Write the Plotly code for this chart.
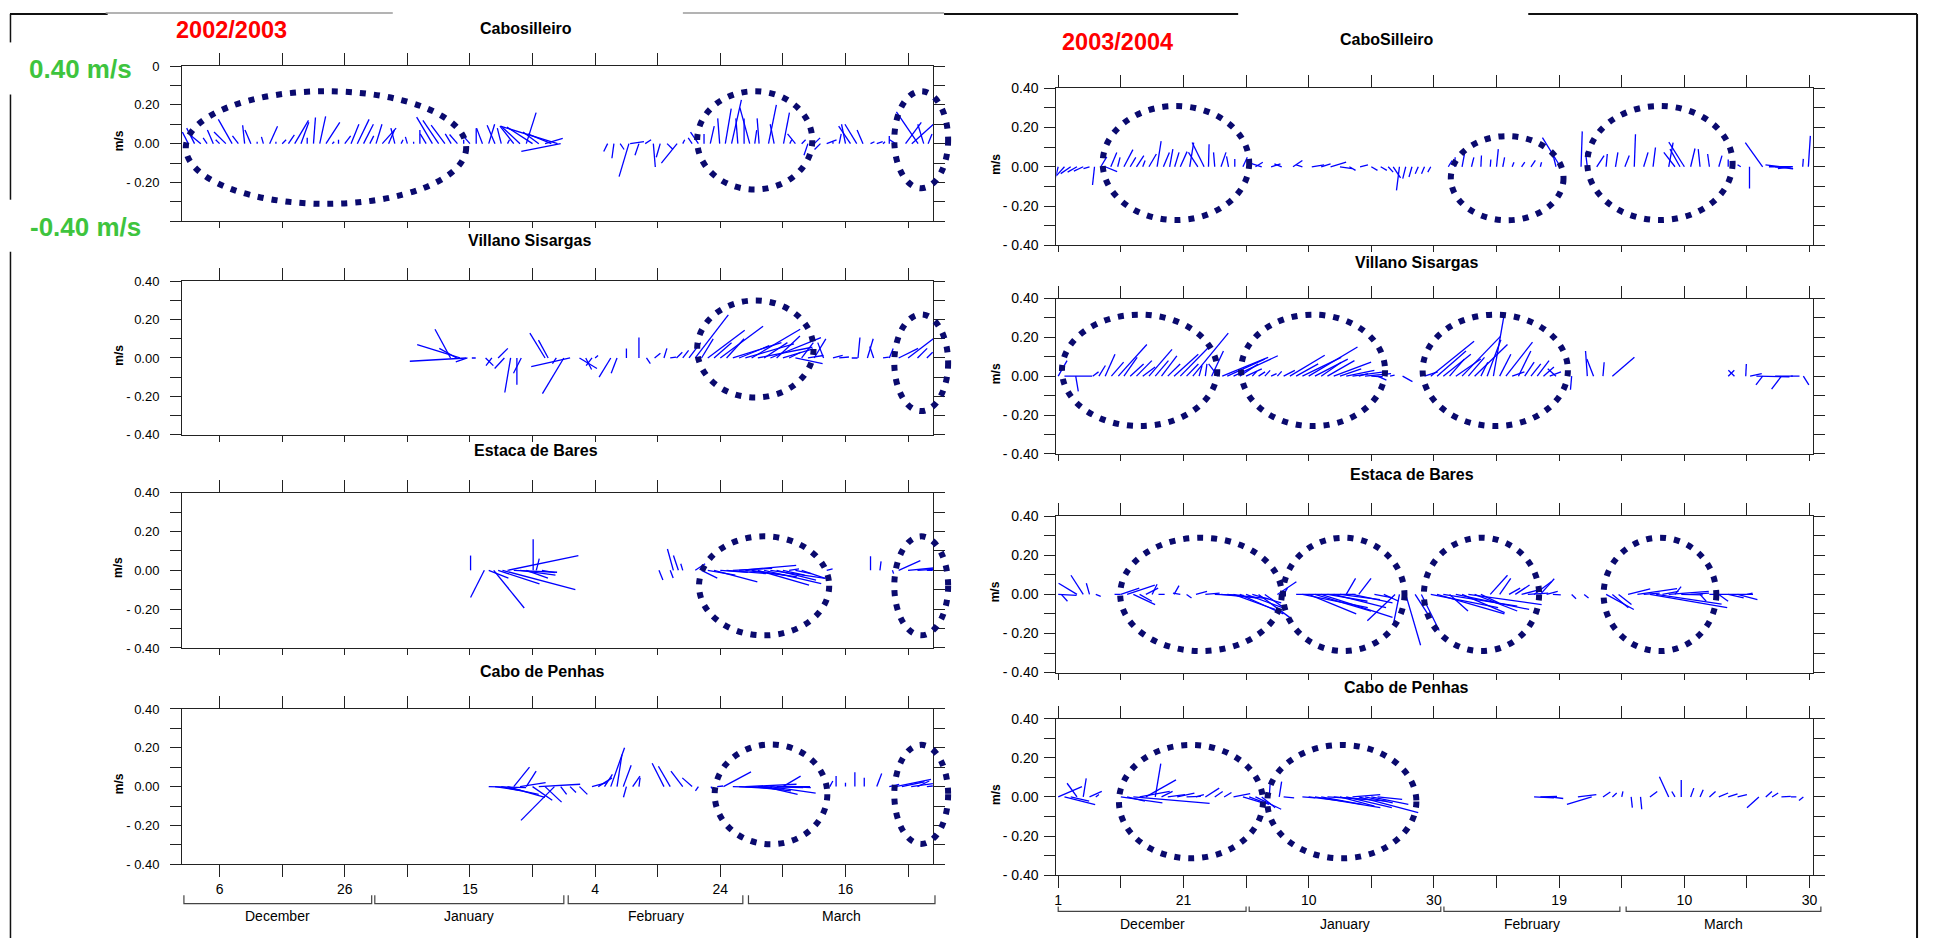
import plotly.graph_objects as go

W, H = 1935, 946
FONT = "Liberation Sans, Arial, Helvetica, sans-serif"

# ---------------------------------------------------------------- data
# sticks: time in days (left: from 30 Nov 2002, right: from 1 Dec 2003), u/v in m/s
L1_t = [1, 2, 3, 4, 5, 6, 7, 8, 9, 10,
        11, 12, 13, 14, 15, 16, 17, 18, 19, 20,
        21, 22, 23, 24, 25, 26, 27, 28, 29, 30,
        31, 32, 33, 34, 35, 36, 37, 38, 39, 40,
        41, 42, 43, 44, 45, 46, 47, 48, 49, 50,
        51, 52, 53, 54, 55, 56, 57, 58, 59, 60, 60.5,
        68, 69, 70, 71.4, 71.6, 73, 74, 75.3, 76.4, 77.5, 79.1,
        80, 81.5, 82.5, 83.4, 84.4, 85.9, 86.8, 87.8, 88.8, 89.8,
        90.7, 91.5, 92.2, 93.7, 94.6, 96.1, 97.1, 98, 99, 100,
        101, 102, 103, 104, 105, 106, 106.8, 107.8, 108.8, 110,
        111, 112, 113, 114, 115.6, 116.6, 117.6, 118.5, 119.2]
L1_u = [-0.03, -0.04, -0.06, -0.02, -0.03, -0.02, -0.06, -0.07, -0.03, -0.01,
        -0.03, 0.00, -0.01, 0.04, 0.00, 0.02, 0.03, 0.07, 0.04, 0.00,
        0.01, 0.03, 0.07, 0.01, 0.00, 0.03, 0.04, 0.06, 0.05, 0.02,
        0.03, 0.07, 0.03, -0.02, 0.01, -0.01, 0.00, 0.00, -0.03, -0.08,
        -0.08, -0.07, -0.03, -0.04, 0.00, -0.03, 0.00, -0.03, 0.03, -0.04,
        -0.02, 0.01, -0.07, -0.09, 0.05, -0.13, -0.08, 0.09, -0.12, -0.29, -0.20,
        -0.02, -0.01, 0.02, -0.05, 0.07, -0.02, 0.03, 0.01, -0.02, 0.03, -0.08,
        0.01, -0.02, -0.04, 0.00, 0.02, -0.01, 0.03, 0.05, -0.01, 0.00,
        -0.05, 0.01, -0.01, 0.04, -0.02, 0.03, 0.01, -0.04, 0.02, -0.02,
        0.03, -0.03, 0.05, 0.00, 0.01, -0.02, -0.06, -0.06, -0.03, 0.02,
        0.03, 0.01, 0.00, -0.03, 0.08, 0.11, -0.11, -0.03, 0.02]
L1_v = [0.06, 0.08, 0.05, 0.03, 0.07, 0.02, 0.06, 0.125, 0.04, 0.095,
        0.07, 0.01, 0.035, 0.09, 0.01, 0.02, 0.045, 0.12, 0.11, 0.03,
        0.135, 0.14, 0.11, 0.01, 0.02, 0.04, 0.10, 0.125, 0.10, 0.04,
        0.10, 0.08, 0.07, 0.08, 0.02, 0.035, 0.01, 0.07, 0.05, 0.137,
        0.12, 0.095, 0.05, 0.047, 0.02, 0.035, 0.08, 0.08, 0.10, 0.095,
        0.08, 0.02, 0.09, 0.085, 0.16, 0.086, 0.06, 0.027, 0.05, 0.09, -0.04,
        -0.04, -0.075, -0.03, -0.17, 0.01, -0.06, 0.02, -0.12, -0.07, -0.03, -0.10,
        0.02, 0.03, 0.06, 0.05, 0.09, 0.13, 0.18, 0.225, 0.13, 0.13,
        0.186, 0.07, 0.13, 0.20, 0.10, 0.16, 0.02, 0.05, 0.02, -0.06,
        0.03, -0.03, 0.02, 0.01, 0.05, 0.10, 0.09, 0.10, 0.07, 0.01,
        0.01, 0.01, 0.04, 0.02, 0.11, 0.10, 0.164, 0.10, 0.05]

L2_t = [42.9, 43.9, 44.4, 45.4, 45.6, 46.3,
        48.5, 49.5, 50.5, 51.5, 52.5, 53.5, 54.2, 58, 58.5, 59.8, 61, 62,
        63.5, 64.5, 65.5, 66, 68.5, 69.5, 71, 73, 74.2, 75.5, 77,
        78, 79, 80, 81, 82, 83, 84, 85, 86, 87, 88, 89,
        90, 91, 92, 93, 94, 95, 96, 97, 98, 99, 100, 101,
        102.5, 104, 105, 107, 108, 109.5, 110.5, 112, 113, 114.5, 116, 117.5, 119]
L2_u = [-0.08, -0.09, -0.22, -0.29, -0.06, 0.02,
        0.04, -0.03, 0.05, -0.05, -0.03, 0.00, -0.04, -0.078, -0.05, -0.02, -0.11, -0.20,
        0.09, 0.03, -0.03, 0.015, -0.06, -0.03, 0.00, 0.00, 0.02, 0.03, 0.015,
        0.03, 0.03, 0.03, 0.06, 0.17, 0.06, 0.19, 0.09, 0.22, 0.09, 0.25, 0.155,
        0.25, 0.25, 0.28, 0.12, 0.26, 0.12, 0.155, 0.06, 0.14, 0.06, 0.08, 0.06,
        -0.03, 0.05, 0.05, 0.03, 0.01, 0.03, -0.02, 0.03, 0.02, 0.10, 0.13, 0.05, 0.03]
L2_v = [0.15, 0.05, 0.07, -0.017, -0.02, 0.00,
        -0.04, -0.04, 0.05, -0.055, -0.18, -0.14, -0.08, 0.13, 0.093, -0.03, -0.186, -0.045,
        -0.055, -0.06, -0.04, 0.013, -0.10, -0.08, 0.05, 0.107, -0.03, 0.025, 0.05,
        0.005, 0.03, 0.04, 0.08, 0.225, 0.10, 0.145, 0.08, 0.165, 0.10, 0.08, 0.064,
        0.073, 0.15, 0.056, 0.08, 0.106, 0.115, 0.047, 0.03, -0.03, 0.08, 0.013, 0.10,
        0.08, 0.013, 0.005, 0.00, 0.107, 0.10, 0.06, 0.005, 0.05, 0.05, 0.10, 0.05, 0.03]

L3_t = [46.1, 48.3, 49.0, 49.8, 50.5, 51.2, 52, 53, 54, 55, 56.1, 56.6, 57.5,
        76.2, 78, 78.5, 79.3, 80,
        82, 83, 84, 85, 86, 87, 88, 89, 90, 91, 92, 93, 94, 95, 96, 97, 98, 99, 103,
        110, 111.5, 113.5, 114.5, 116, 117.5, 119]
L3_u = [0.00, -0.07, 0.10, 0.155, 0.21, 0.37, 0.36, 0.22, 0.18, 0.11, 0.00, 0.015, 0.065,
        0.02, 0.015, -0.03, -0.025, -0.01,
        0.05, 0.08, 0.14, 0.22, 0.14, 0.20, 0.20, 0.29, 0.20, 0.23, 0.26, 0.29, 0.28, 0.20, 0.11, 0.05, 0.08, 0.12, 0.03,
        0.00, 0.006, 0.006, 0.11, 0.13, 0.08, 0.03]
L3_v = [0.076, -0.14, -0.04, -0.194, -0.07, -0.10, 0.076, -0.01, -0.025, -0.04, 0.16, 0.06, -0.012,
        -0.05, -0.04, 0.11, 0.076, 0.034,
        0.034, -0.04, -0.025, -0.06, -0.01, -0.017, 0.01, 0.025, -0.025, -0.034, -0.076, -0.068, -0.042, -0.05, -0.025, 0.008, -0.017, -0.042, 0.008,
        0.073, 0.046, -0.017, 0.05, 0.012, 0.005, 0.00]

L4_t = [49, 50, 51, 52, 53, 54, 55, 56, 57, 58, 59.5, 60.5, 62, 63.5,
        65.5, 66.5, 67.5, 68.5, 69.5, 70.5, 71, 72, 73,
        77, 78, 80, 81.5, 82.5,
        84.5, 85.5, 86.5, 88, 89, 90, 91, 92, 93, 94, 95, 96, 97,
        103.5, 104.5, 106, 107.5, 109, 111, 113, 114, 115, 116.5, 117.5, 119]
L4_u = [0.19, 0.13, 0.19, 0.19, 0.08, 0.13, 0.05, 0.10, 0.21, 0.084, -0.17, 0.03, 0.03, 0.04,
        0.075, 0.07, 0.04, 0.07, 0.025, 0.04, -0.015, 0.037, 0.006,
        -0.06, -0.06, -0.06, -0.05, -0.015,
        0.015, 0.03, 0.14, 0.20, 0.23, 0.26, 0.20, 0.23, 0.17, 0.23, 0.17, 0.09, 0.11,
        0.015, 0.00, 0.00, 0.00, 0.00, 0.025, 0.05, 0.18, 0.115, 0.11, 0.06, 0.03]
L4_v = [-0.005, -0.02, -0.04, -0.055, 0.10, 0.02, 0.08, -0.07, 0.012, -0.08, -0.174, -0.04, -0.03, -0.04,
        0.02, 0.045, 0.063, 0.20, 0.165, 0.11, -0.055, 0.054, 0.046,
        0.12, 0.105, 0.08, 0.045, -0.022,
        -0.022, 0.003, 0.076, -0.005, -0.013, 0.012, -0.022, -0.005, -0.04, -0.034, 0.00, 0.054, -0.005,
        0.029, 0.054, 0.02, 0.074, 0.046, 0.068, 0.012, 0.037, 0.025, 0.015, 0.029, 0.003]

R1_t = [0, 1, 2, 3, 4, 5, 5.8, 6.8, 7.5,
        8.4, 9.5, 10.5, 11.5, 12.5, 13.5, 14.5, 15.8, 16.8, 17.8, 18.6, 19.5, 21, 22.3, 23.3, 24, 25, 26, 27.2, 28.2, 29.5, 30.6, 31.5,
        32.5, 34, 35.7, 37.5, 39, 40.5, 42, 43.5, 45, 46.5, 48.2, 50, 51.5,
        52.7, 53.5, 54.5, 55.5, 56.5, 57.5, 58.5, 59.5,
        62.3, 63.3, 64.5, 66, 67.5, 69, 70, 71, 72.5, 74, 75.5, 77, 79.5, 80.2,
        83.5, 84.5, 86, 87.5, 89, 90.5, 92, 93.5, 95, 97.5, 98.5, 99.3, 100, 101, 102.5, 104, 105.5, 107, 109,
        110.4, 112.5, 113.5, 114.5, 115.5, 117, 118.9, 119.8]
R1_u = [-0.015, -0.04, -0.05, -0.047, -0.047, -0.03, -0.01, 0.03, 0.06,
        0.03, 0.012, 0.045, 0.028, 0.037, 0.012, 0.037, 0.02, 0.03, 0.016, 0.022, 0.034, 0.02, -0.047, -0.06, 0.003, -0.006, 0.025, -0.01, 0.00, 0.022, -0.006, 0.037,
        -0.062, 0.047, -0.037, 0.047, -0.031, 0.062, 0.047, 0.078, 0.062, 0.031, 0.04, 0.031, 0.031,
        0.025, 0.037, -0.015, -0.015, -0.015, -0.015, -0.015, -0.015,
        0.019, 0.003, 0.012, 0.012, 0.003, 0.003, 0.009, 0.009, 0.009, 0.016, 0.022, 0.006, -0.016, -0.09,
        0.006, -0.009, 0.037, 0.006, 0.012, 0.022, 0.006, 0.022, 0.012, 0.022, -0.056, -0.05, -0.078, 0.022, -0.009, -0.009, 0.016, 0.00, -0.016,
        0.00, -0.087, 0.12, 0.09, -0.08, -0.065, 0.003, 0.01]
R1_v = [-0.06, -0.045, -0.035, -0.027, -0.022, -0.01, -0.093, 0.05, -0.025,
        0.073, 0.048, 0.087, 0.048, 0.057, 0.032, 0.065, 0.13, 0.073, 0.09, 0.073, 0.077, 0.123, 0.073, 0.123, 0.115, 0.073, 0.073, 0.053, 0.04, 0.048, 0.032, 0.023,
        0.02, 0.015, 0.015, 0.032, 0.01, 0.01, 0.015, 0.023, -0.01, -0.018, 0.01, -0.018, -0.018,
        -0.027, -0.057, -0.12, -0.06, -0.052, -0.035, -0.035, -0.027,
        0.032, 0.048, 0.065, 0.048, 0.057, 0.037, 0.09, 0.048, 0.023, 0.023, 0.032, 0.023, 0.065, 0.148,
        0.18, 0.073, 0.057, 0.065, 0.073, 0.057, 0.165, 0.073, 0.098, 0.123, 0.073, 0.09, 0.125, 0.093, 0.09, 0.065, 0.057, 0.037, 0.01,
        -0.11, 0.123, 0.00, -0.01, 0.01, -0.01, 0.04, 0.157]

R2_t = [0, 1, 2.8, 5.5, 6.5, 7.5, 8.5, 9.6, 10.5, 11.5, 12.5, 13.5, 14.5, 15.5, 16.5, 17.5, 18.5, 19.5, 20.5, 21.5, 22.5, 23.5, 24.5, 25.5,
        26.2, 27, 28, 29, 30, 31, 32, 33, 34, 35, 36, 37, 38, 39, 40, 41, 42, 43, 44, 45, 46, 47, 48, 49, 50, 51, 53, 55,
        58.5, 59.5, 60.5, 61.5, 62.5, 63.5, 64.5, 65.5, 66.5, 67.5, 68.5, 69.5, 70.5, 71.5, 72.5, 73.5, 74.5, 75.5, 76.5, 77.5, 78.5, 79.5,
        82, 84.5, 85.5, 87, 88.5, 107, 108, 109.8, 110.5, 111.5, 112.5, 114.5, 115.5, 117, 119]
R2_u = [0.045, 0.14, 0.013, 0.03, 0.033, 0.05, 0.062, 0.145, 0.067, 0.068, 0.078, 0.063, 0.117, 0.067, 0.078, 0.063, 0.123, 0.158, 0.06, 0.18, 0.015, 0.008, 0.06, -0.047,
        0.233, 0.19, 0.225, 0.093, 0.08, 0.023, 0.033, 0.027, 0.028, 0.022, 0.057, 0.177, 0.112, 0.197, 0.248, 0.167, 0.102, 0.137, 0.19, 0.108, 0.143, 0.16, 0.047, 0.132, 0.058, 0.045, 0.023, 0.05,
        0.067, 0.22, 0.147, 0.14, 0.075, 0.127, 0.195, 0.082, 0.167, 0.035, 0.07, 0.055, 0.057, 0.135, 0.062, 0.063, 0.048, 0.05, 0.06, 0.053, 0.057, -0.042,
        -0.006, -0.009, -0.034, 0.006, 0.112, 0.031, -0.031, 0.003, 0.059, 0.168, -0.034, 0.09, -0.05, 0.044, 0.028]
R2_v = [0.08, 0.00, -0.078, 0.022, 0.055, 0.113, 0.072, 0.163, 0.097, 0.063, 0.08, 0.047, 0.138, 0.08, 0.105, 0.063, 0.113, 0.163, 0.063, 0.222, 0.055, 0.063, 0.13, 0.063,
        0.097, 0.088, 0.105, 0.063, 0.038, 0.025, 0.022, 0.03, 0.013, 0.025, 0.03, 0.108, 0.063, 0.097, 0.15, 0.088, 0.072, 0.08, 0.072, 0.038, 0.03, 0.022, 0.013, 0.013, -0.003, -0.02, 0.005, -0.028,
        0.022, 0.18, 0.13, 0.113, 0.088, 0.088, 0.205, 0.097, 0.163, 0.072, 0.188, 0.318, 0.113, 0.175, 0.022, 0.13, 0.072, 0.063, 0.08, 0.047, 0.022, 0.038,
        -0.07, 0.13, 0.088, 0.072, 0.097, 0.03, 0.03, 0.063, 0.013, -0.003, -0.045, 0.00, -0.067, 0.00, -0.045]

R3_t = [0, 0.5, 3, 4, 5, 6,
        9, 10, 11, 12, 13, 14, 15, 17,
        18.5, 19.5, 20.5, 22, 23.5, 25, 26, 27, 28, 29, 30, 31, 32, 33, 35, 36,
        38, 39, 40, 41, 42, 43, 44, 45, 46, 47, 48, 50.5, 52, 53.8,
        54.5, 55.5, 57, 58,
        59.5, 60.5, 61.5, 62.5, 63.5, 64.5, 65.5, 66.5, 67.5, 69, 70.5, 72, 73, 74, 75, 76, 77, 78, 79,
        82, 84, 87.5, 88.5, 89.5, 91, 92.5, 93.5, 94.5, 95.5, 96.5, 97.5, 98.5, 99.5, 101, 102.5, 104, 105.5, 107, 108.5, 110]
R3_u = [0.093, 0.031, -0.093, -0.062, -0.016, 0.025,
        0.031, 0.093, 0.14, 0.11, 0.062, 0.062, 0.025, -0.031,
        0.025, -0.037, 0.025, 0.056, 0.072, 0.146, 0.177, 0.208, 0.21, 0.22, 0.208, 0.146, 0.16, 0.084, 0.096, 0.019,
        0.30, 0.33, 0.24, 0.283, 0.36, 0.202, 0.264, 0.202, 0.047, 0.202, 0.062, 0.093, 0.075, -0.14,
        -0.03, 0.075, 0.075, 0.09,
        0.34, 0.34, 0.373, 0.093, 0.37, 0.215, 0.37, 0.215, 0.09, 0.087, 0.056, 0.056, 0.072, 0.087, 0.103, 0.087, 0.07, 0.056, 0.04,
        0.022, 0.022, 0.14, 0.081, 0.065, 0.112, 0.20, 0.081, 0.39, 0.33, 0.081, 0.202, 0.031, 0.109, 0.093, 0.031, 0.22, 0.047, 0.078, 0.10, 0.028]
R3_v = [-0.005, -0.035, 0.057, 0.098, 0.057, -0.01,
        0.00, 0.032, 0.048, -0.052, -0.035, 0.032, 0.052, 0.00,
        0.045, 0.007, -0.018, 0.015, 0.007, -0.005, -0.018, -0.022, -0.077, -0.10, -0.077, -0.043, -0.12, -0.06, 0.065, 0.032,
        0.00, -0.068, -0.10, -0.085, -0.118, -0.035, -0.068, -0.027, 0.082, -0.043, 0.082, -0.018, -0.035, -0.135,
        -0.15, -0.26, -0.118, -0.185,
        -0.068, -0.10, -0.06, -0.085, -0.077, -0.093, -0.052, -0.085, -0.043, 0.098, 0.082, 0.032, 0.048, 0.023, 0.007, 0.065, 0.08, 0.015, -0.002,
        -0.022, -0.018, -0.077, -0.068, -0.052, 0.028, 0.03, 0.007, -0.068, -0.05, 0.015, 0.015, 0.04, -0.002, 0.007, -0.035, 0.00, -0.035, -0.018, -0.027, 0.007]

R4_t = [0, 1, 2, 3, 4, 5, 6,
        10, 11, 12, 13, 14, 15.5, 16.5, 17.5, 19, 20.5, 22, 23.5, 25, 26.5, 28,
        29.5, 30.5, 31.5, 32.5, 33.7, 35.3, 36,
        39, 40, 41, 42, 43, 44, 45, 46, 47, 48, 49, 50, 51,
        76, 77, 78.5, 83, 85.2, 87, 88.5, 90, 91.5, 93, 94.5, 97.5, 98.5, 99.5, 101, 102.5, 104, 105.5, 107, 108.5, 111.9, 113, 114, 115.5, 117, 119]
R4_u = [0.12, 0.155, 0.093, -0.05, 0.015, 0.062, 0.016,
        0.21, 0.09, 0.385, 0.152, 0.152, 0.028, 0.056, 0.087, 0.087, 0.072, 0.04, 0.07, 0.04, 0.037, 0.084,
        0.10, 0.10, 0.13, 0.068, 0.006, 0.012, 0.053,
        0.065, 0.174, 0.33, 0.205, 0.205, 0.267, 0.174, 0.23, 0.14, 0.30, 0.14, 0.187, 0.124,
        0.10, 0.084, 0.068, 0.093, -0.125, 0.037, 0.022, 0.006, 0.006, 0.006, 0.037, -0.047, -0.016, 0.00, 0.016, 0.016, 0.031, 0.047, 0.047, 0.047, -0.06, 0.031, 0.031, 0.047, 0.028, -0.022]
R4_v = [0.053, -0.04, -0.022, 0.07, 0.095, 0.028, 0.012,
        -0.03, -0.022, -0.033, 0.028, 0.087, 0.17, 0.028, 0.012, 0.02, 0.003, 0.012, 0.045, 0.028, 0.023, 0.017,
        -0.03, -0.038, -0.063, -0.055, 0.087, 0.078, -0.005,
        -0.005, -0.022, -0.055, -0.038, -0.013, -0.022, -0.047, -0.055, 0.012, -0.08, -0.03, -0.038, -0.013,
        -0.005, 0.003, -0.008, 0.012, -0.038, 0.025, 0.02, 0.028, -0.055, -0.063, 0.028, 0.103, 0.028, 0.087, 0.045, 0.037, 0.028, 0.02, 0.015, 0.012, -0.055, 0.028, 0.02, 0.003, 0.00, -0.018]

# highlighted events: (centre day, half-width days, centre m/s, half-height m/s)
L1_rings = [(23.0, 22.4, -0.02, 0.29), (91.5, 9.2, 0.017, 0.253), (118.1, 4.3, 0.02, 0.25)]
L2_rings = [(91.6, 9.3, 0.047, 0.253), (118.1, 4.3, -0.025, 0.252)]
L3_rings = [(93.0, 10.4, -0.08, 0.255), (118.1, 4.3, -0.08, 0.255)]
L4_rings = [(94.1, 9.0, -0.04, 0.257), (118.1, 4.3, -0.04, 0.255)]
R1_rings = [(18.8, 11.7, 0.019, 0.29), (71.7, 9.0, -0.058, 0.214), (96.1, 11.6, 0.019, 0.29)]
R2_rings = [(13.0, 12.4, 0.03, 0.287), (40.7, 11.5, 0.03, 0.287), (69.8, 11.6, 0.03, 0.287)]
R3_rings = [(22.8, 12.9, 0.0, 0.29), (45.6, 9.7, 0.0, 0.29), (67.6, 9.2, 0.0, 0.29), (96.1, 9.0, 0.0, 0.29)]
R4_rings = [(21.2, 11.5, -0.024, 0.29), (45.3, 11.9, -0.024, 0.29)]

L_TICK_DAYS = [6, 16, 26, 36, 46, 56, 66, 76, 86, 96, 106, 116]
L_TICK_TEXT = ["6", "", "26", "", "15", "", "4", "", "24", "", "16", ""]
R_TICK_DAYS = [0, 10, 20, 30, 40, 50, 60, 70, 80, 90, 100, 110, 120]
R_TICK_TEXT = ["1", "", "21", "", "10", "", "30", "", "19", "", "10", "", "30"]
MONTHS = ["December", "January", "February", "March"]
L_MONTH_SPANS = [(0.3, 30.3), (30.8, 61.0), (61.7, 89.6), (90.5, 120.3)]
R_MONTH_SPANS = [(0.0, 30.0), (30.5, 61.1), (61.6, 89.7), (90.7, 121.8)]
Y_TICKS = [-0.4, -0.3, -0.2, -0.1, 0.0, 0.1, 0.2, 0.3, 0.4]
Y_TEXT = ["- 0.40", "", "- 0.20", "", "0.00", "", "0.20", "", "0.40"]
Y_TEXT_FIRST = ["", "", "- 0.20", "", "0.00", "", "0.20", "", "0"]
SEASONS = ["2002/2003", "2003/2004"]
SCALE_LABELS = ["0.40 m/s", "-0.40 m/s"]

# ---------------------------------------------------------------- layout geometry
COLS = {
    "L": dict(px0=180.6, px1=934.0, d0=0.0, d1=120.0, tickdays=L_TICK_DAYS, ticktext=L_TICK_TEXT,
              spans=L_MONTH_SPANS, yfont=13, standoff=8, ms_x=117, br=(902.5, 911), month_y=924),
    "R": dict(px0=1057.6, px1=1817.0, d0=-0.3, d1=120.6, tickdays=R_TICK_DAYS, ticktext=R_TICK_TEXT,
              spans=R_MONTH_SPANS, yfont=14, standoff=3, ms_x=997, br=(914, 919), month_y=932),
}
PANELS = [
    dict(col="L", title="Cabosilleiro", t=L1_t, u=L1_u, v=L1_v, rings=L1_rings, top=59, bot=217, tx=(526, 21), yt=Y_TEXT_FIRST, bottom=False),
    dict(col="L", title="Villano Sisargas", t=L2_t, u=L2_u, v=L2_v, rings=L2_rings, top=278, bot=434, tx=(529, 236), yt=Y_TEXT, bottom=False),
    dict(col="L", title="Estaca de Bares", t=L3_t, u=L3_u, v=L3_v, rings=L3_rings, top=493, bot=651, tx=(536, 450), yt=Y_TEXT, bottom=False),
    dict(col="L", title="Cabo de Penhas", t=L4_t, u=L4_u, v=L4_v, rings=L4_rings, top=713, bot=871, tx=(542, 675), yt=Y_TEXT, bottom=True),
    dict(col="R", title="CaboSilleiro", t=R1_t, u=R1_u, v=R1_v, rings=R1_rings, top=81.5, bot=241.5, tx=(1389, 32), yt=Y_TEXT, bottom=False),
    dict(col="R", title="Villano Sisargas", t=R2_t, u=R2_u, v=R2_v, rings=R2_rings, top=295.5, bot=453.5, tx=(1419, 259), yt=Y_TEXT, bottom=False),
    dict(col="R", title="Estaca de Bares", t=R3_t, u=R3_u, v=R3_v, rings=R3_rings, top=517, bot=676, tx=(1414, 475), yt=Y_TEXT, bottom=False),
    dict(col="R", title="Cabo de Penhas", t=R4_t, u=R4_u, v=R4_v, rings=R4_rings, top=723, bot=882, tx=(1409, 691), yt=Y_TEXT, bottom=True),
]

LC = "#222222"
STICK = "#0000ff"
RING = "#0a0a6e"


def X(px):
    return px / W


def Y(py):
    return 1 - py / H


def ax_name(kind, n):
    return kind + "axis" + ("" if n == 1 else str(n))


def ax_ref(kind, n):
    return kind + ("" if n == 1 else str(n))


fig = go.Figure()
layout = dict(width=W, height=H, margin=dict(l=0, r=0, t=0, b=0), paper_bgcolor="white",
              plot_bgcolor="rgba(0,0,0,0)", showlegend=False, font=dict(family=FONT, color="black"))
shapes, annots = [], []


def text(s, px, py, size, color="black", angle=0):
    annots.append(dict(text=s, x=X(px), y=Y(py), xref="paper", yref="paper", showarrow=False,
                       xanchor="center", yanchor="middle", textangle=angle,
                       font=dict(family=FONT, size=size, color=color)))


for i, p in enumerate(PANELS):
    n, nt = i + 1, i + 9
    c = COLS[p["col"]]
    assert len(p["t"]) == len(p["u"]) == len(p["v"]), p["title"]
    xr = [c["d0"], c["d1"]]
    px_day = (c["px1"] - c["px0"]) / (c["d1"] - c["d0"])
    px_ms = (p["bot"] - p["top"]) / 0.8
    K = px_ms / px_day  # days per m/s so sticks keep true direction

    def dx(d):
        return c["px0"] + (d - c["d0"]) * px_day

    def dy(val):
        return p["top"] + (0.4 - val) * px_ms

    xs, ys = [], []
    for t, u, v in zip(p["t"], p["u"], p["v"]):
        xs += [t, t + K * u, None]
        ys += [0.0, v, None]
    fig.add_trace(go.Scatter(x=xs, y=ys, mode="lines", line=dict(color=STICK, width=1.3),
                             xaxis=ax_ref("x", n), yaxis=ax_ref("y", n), hoverinfo="skip", showlegend=False))
    fig.add_trace(go.Scatter(x=[None], y=[None], mode="lines", xaxis=ax_ref("x", nt), yaxis=ax_ref("y", n),
                             hoverinfo="skip", showlegend=False))

    layout[ax_name("x", n)] = dict(
        domain=[X(c["px0"]), X(c["px1"])], range=xr, anchor=ax_ref("y", n), side="bottom",
        showline=True, linecolor=LC, linewidth=1, ticks="outside", ticklen=12 if p["bottom"] else 6,
        tickcolor=LC, tickwidth=1, tickmode="array", tickvals=c["tickdays"], ticktext=c["ticktext"],
        showticklabels=p["bottom"], tickfont=dict(size=14), showgrid=False, zeroline=False)
    layout[ax_name("x", nt)] = dict(
        overlaying=ax_ref("x", n), anchor=ax_ref("y", n), side="top", range=xr,
        showline=True, linecolor=LC, linewidth=1, ticks="outside", ticklen=12, tickcolor=LC,
        tickmode="array", tickvals=c["tickdays"], showticklabels=False, showgrid=False, zeroline=False)
    layout[ax_name("y", n)] = dict(
        domain=[Y(p["bot"]), Y(p["top"])], range=[-0.4, 0.4], anchor=ax_ref("x", n),
        showline=True, mirror="ticks", linecolor=LC, linewidth=1, ticks="outside", ticklen=11,
        tickcolor=LC, tickmode="array", tickvals=Y_TICKS, ticktext=p["yt"],
        tickfont=dict(size=c["yfont"]), ticklabelstandoff=c["standoff"], showgrid=False, zeroline=False)

    # dotted rings around events
    for (cd, hw, cv, hh) in p["rings"]:
        shapes.append(dict(type="circle", xref="paper", yref="paper",
                           x0=X(dx(cd - hw)), x1=X(dx(cd + hw)), y0=Y(dy(cv - hh)), y1=Y(dy(cv + hh)),
                           line=dict(color=RING, width=6, dash="6px,8px"), layer="above"))

    text("<b>%s</b>" % p["title"], p["tx"][0], p["tx"][1], 16)
    text("<b>m/s</b>", c["ms_x"], (p["top"] + p["bot"]) / 2 - 3, 12, angle=-90)

    if p["bottom"]:
        ytop, yline = c["br"]
        for name, (a, b) in zip(MONTHS, c["spans"]):
            xa, xb = X(dx(a)), X(dx(b))
            shapes.append(dict(type="path", xref="paper", yref="paper",
                               path="M %f,%f L %f,%f L %f,%f L %f,%f" % (xa, Y(ytop), xa, Y(yline), xb, Y(yline), xb, Y(ytop)),
                               line=dict(color="#444444", width=1.2)))
            text(name, dx((a + b) / 2), c["month_y"], 14)

# season and scale labels
text("<b>%s</b>" % SEASONS[0], 230, 22, 23.5, color="#ff0000")
text("<b>%s</b>" % SEASONS[1], 1118.5, 35, 23.5, color="#ff0000")
text("<b>%s</b>" % SCALE_LABELS[0], 79, 62.5, 26, color="#3ec43e")
text("<b>%s</b>" % SCALE_LABELS[1], 83.5, 222.5, 26, color="#3ec43e")


# slide frame lines
def seg(x0, y0, x1, y1, color, width):
    shapes.append(dict(type="line", xref="paper", yref="paper", x0=X(x0), y0=Y(y0), x1=X(x1), y1=Y(y1),
                       line=dict(color=color, width=width)))


seg(8, 6, 106, 6, "#111111", 2)
seg(104, 5, 392, 5, "#9a9a9a", 1.5)
seg(683, 5, 945, 5, "#9a9a9a", 1.5)
seg(945, 6, 1240, 6, "#111111", 2)
seg(1531, 6, 1921, 6, "#111111", 2)
seg(1921, 6, 1921, 946, "#111111", 2)
seg(8.5, 6, 8.5, 35, "#111111", 1.5)
seg(8.5, 88, 8.5, 195, "#111111", 1.5)
seg(8.5, 248, 8.5, 946, "#111111", 1.5)

layout["shapes"] = shapes
layout["annotations"] = annots
fig.update_layout(**layout)

fig.write_html("out.html", config={"displayModeBar": False, "staticPlot": True},
               post_script="document.body.style.margin='0';document.body.style.overflow='hidden';")
